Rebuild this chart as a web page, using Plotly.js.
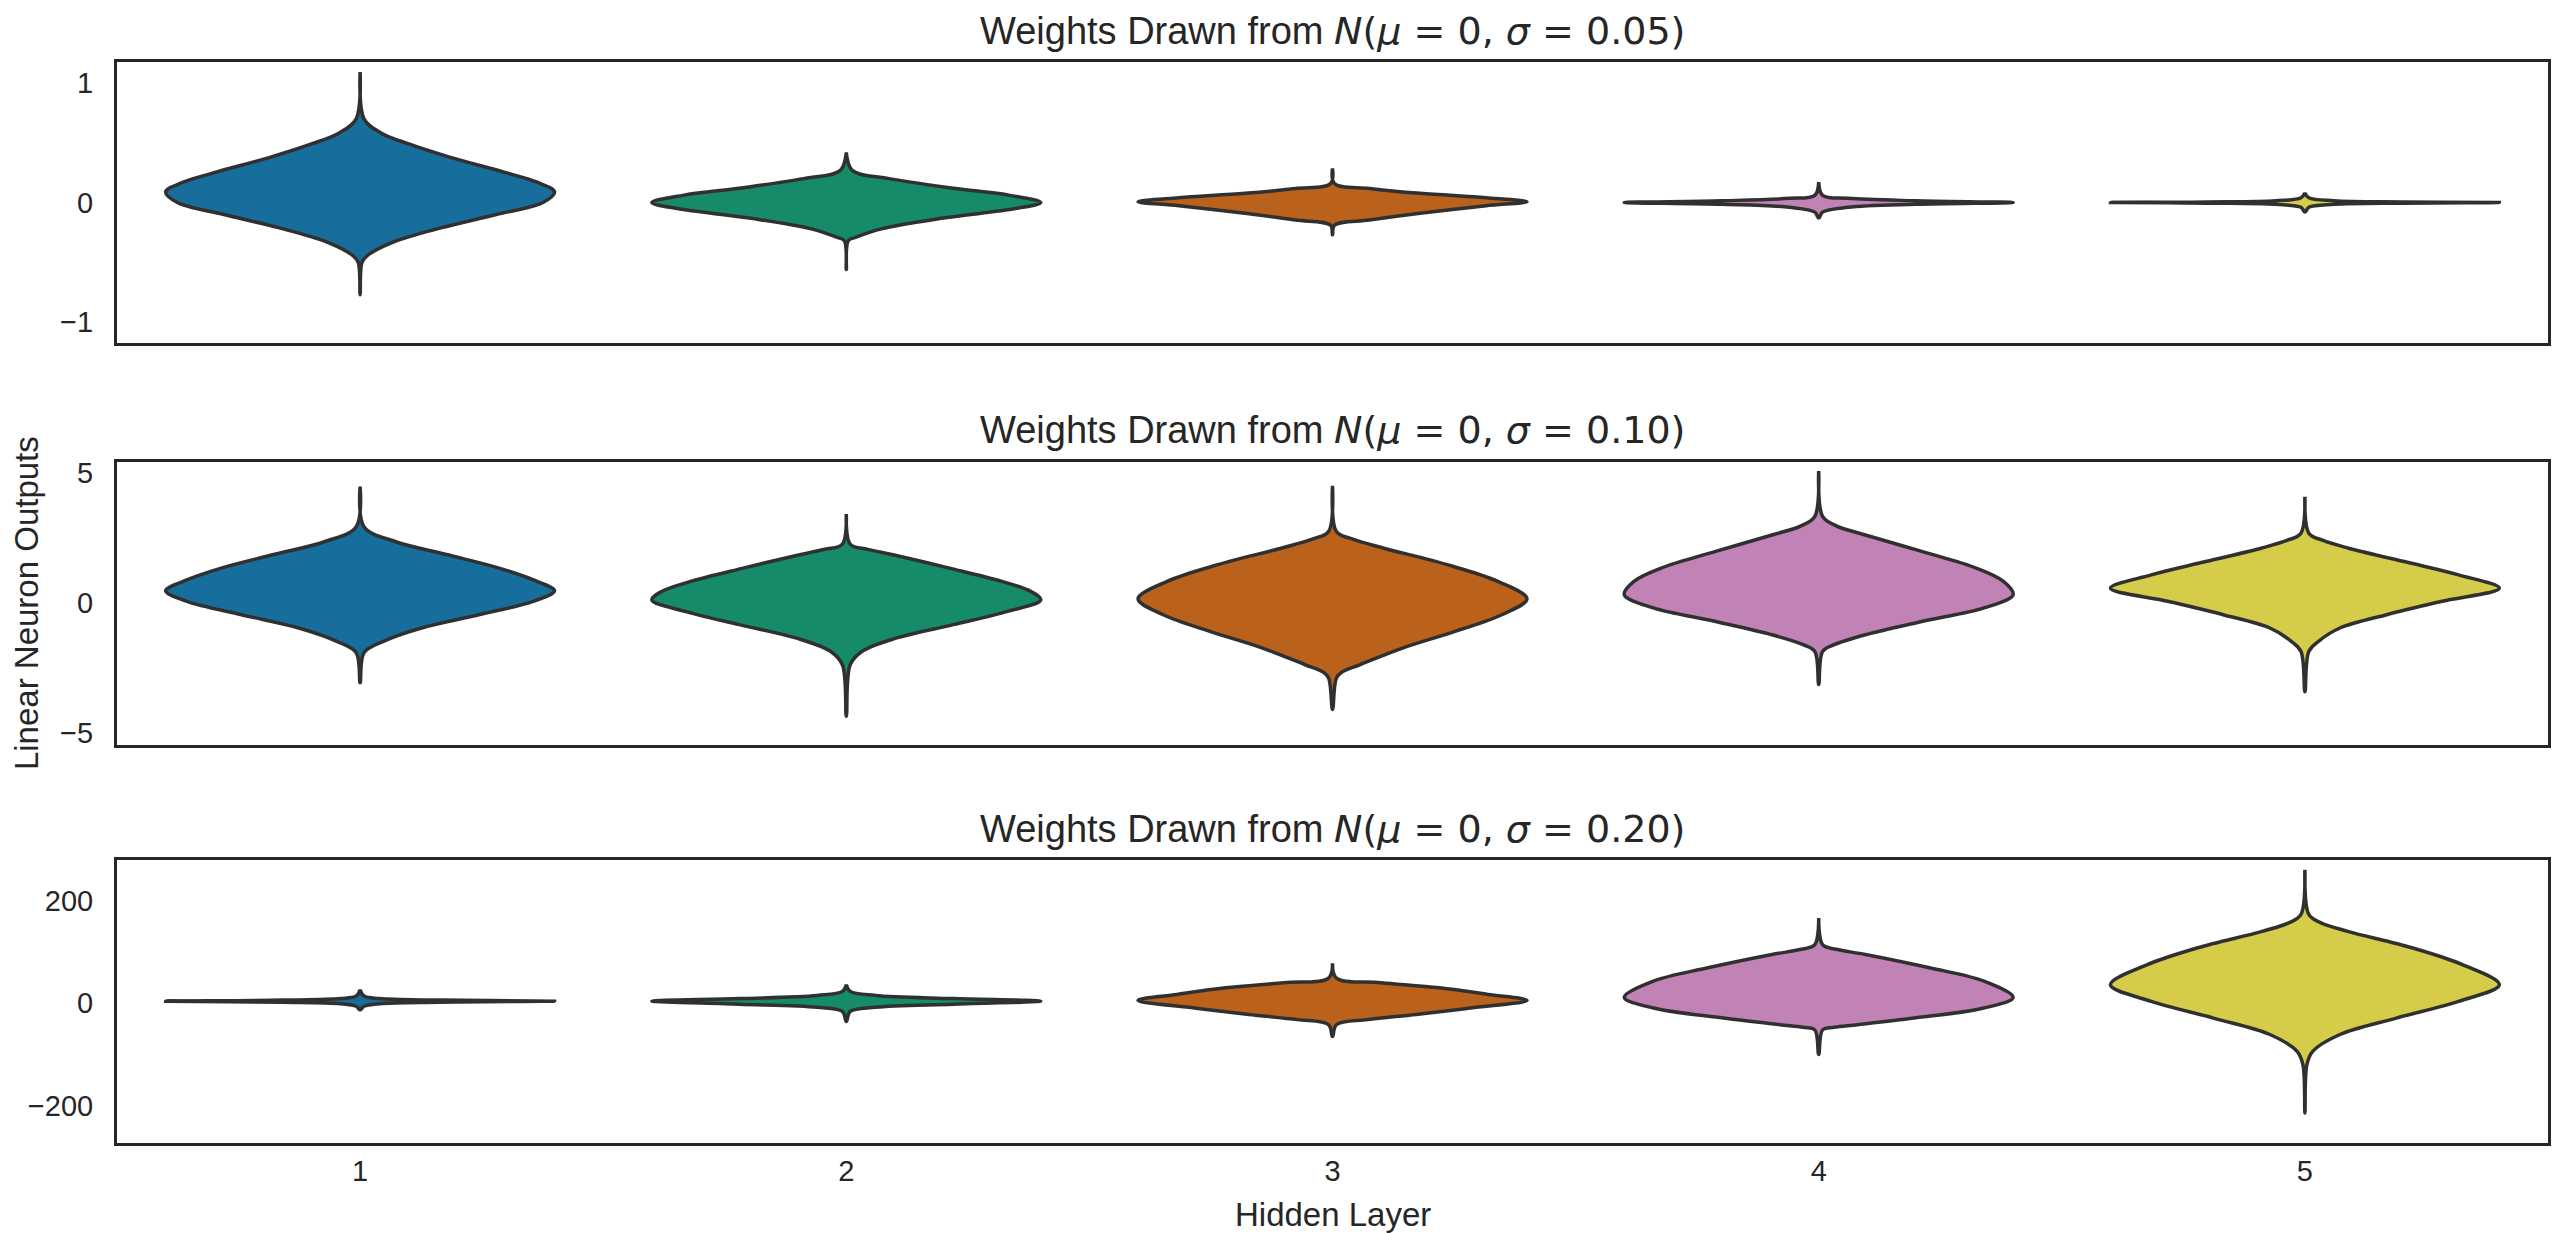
<!DOCTYPE html>
<html>
<head>
<meta charset="utf-8">
<script src="https://cdn.plot.ly/plotly-3.0.1.min.js"></script>
<style>
html,body{margin:0;padding:0;background:#ffffff;}
#chart{width:2566px;height:1233px;}
</style>
</head>
<body>
<div id="chart"></div>
<script>
// ---------------- data ----------------
const layers = ['1', '2', '3', '4', '5'];
const sigmas = ['0.05', '0.10', '0.20'];
const palette = ['#176d9c', '#168b6a', '#ba611b', '#c182b5', '#d5cd4a'];

// y tick values / labels per panel
const ticks005 = [-1, 0, 1];
const tickText005 = ['\u22121', '0', '1'];
const ticks010 = [-5, 0, 5];
const tickText010 = ['\u22125', '0', '5'];
const ticks020 = [-200, 0, 200];
const tickText020 = ['\u2212200', '0', '200'];

// Violin outlines: output levels (bottom -> top)
// and relative half-width of the density at each level (1 = widest).
// sigma = 0.05
const s005Levels = [
  [-0.77, -0.50, -0.44, -0.33, -0.21, -0.10, 0.0, 0.09, 0.17, 0.25, 0.38, 0.49, 0.58, 0.70, 1.09],
  [-0.56, -0.32, -0.29, -0.22, -0.13, -0.05, 0.0, 0.06, 0.12, 0.20, 0.27, 0.42],
  [-0.27, -0.19, -0.146, -0.09, -0.027, 0.007, 0.04, 0.077, 0.118, 0.16, 0.285],
  [-0.13, -0.08, -0.04, -0.015, 0.0, 0.015, 0.035, 0.06, 0.17],
  [-0.08, -0.04, -0.015, -0.005, 0.0, 0.005, 0.015, 0.04, 0.08]
];
const s005Widths = [
  [0, 0.01, 0.04, 0.17, 0.42, 0.70, 0.94, 1.0, 0.91, 0.75, 0.46, 0.25, 0.11, 0.02, 0],
  [0, 0.01, 0.05, 0.18, 0.50, 0.87, 1.0, 0.84, 0.55, 0.22, 0.03, 0],
  [0, 0.01, 0.19, 0.45, 0.79, 1.0, 0.79, 0.45, 0.19, 0.01, 0],
  [0, 0.02, 0.15, 0.50, 1.0, 0.50, 0.15, 0.02, 0],
  [0, 0.02, 0.15, 0.50, 1.0, 0.50, 0.15, 0.02, 0]
];
// sigma = 0.10
const s010Levels = [
  [-3.07, -1.92, -1.48, -0.96, -0.46, 0.05, 0.46, 0.82, 1.34, 1.84, 2.35, 2.92, 4.46],
  [-4.36, -2.38, -1.87, -1.35, -0.84, -0.33, 0.11, 0.43, 0.82, 1.33, 1.84, 2.05, 2.25, 3.40],
  [-4.10, -2.89, -2.65, -2.38, -1.74, -1.10, -0.46, 0.15, 0.82, 1.46, 2.10, 2.45, 2.73, 4.49],
  [-3.14, -1.87, -1.61, -1.23, -0.72, -0.20, 0.31, 0.82, 1.33, 1.97, 2.60, 2.95, 3.31, 5.05],
  [-3.42, -1.87, -1.48, -0.97, -0.46, 0.05, 0.56, 1.07, 1.58, 2.10, 2.40, 2.67, 4.07]
];
const s010Widths = [
  [0, 0.02, 0.12, 0.32, 0.61, 0.89, 1.0, 0.91, 0.71, 0.45, 0.18, 0.02, 0],
  [0, 0.02, 0.08, 0.26, 0.55, 0.83, 1.0, 0.95, 0.80, 0.53, 0.24, 0.11, 0.02, 0],
  [0, 0.02, 0.05, 0.14, 0.36, 0.63, 0.87, 1.0, 0.85, 0.59, 0.26, 0.10, 0.02, 0],
  [0, 0.02, 0.08, 0.24, 0.53, 0.85, 1.0, 0.95, 0.81, 0.53, 0.24, 0.09, 0.02, 0],
  [0, 0.02, 0.07, 0.18, 0.42, 0.70, 1.0, 0.79, 0.51, 0.22, 0.09, 0.02, 0]
];
// sigma = 0.20
const s020Levels = [
  [-13, -6, -1, 2, 4, 6, 9, 14, 26],
  [-35.5, -16, -8, -2, 4, 9, 15, 23, 36],
  [-65, -42, -32, -22, -9.4, 5.5, 17, 30, 40, 49, 78],
  [-100, -52, -47, -42, -29, -9.4, 11.3, 43, 69, 95, 105, 114, 166],
  [-214, -120, -94, -61, -29, 3.5, 36, 75, 108, 140, 157, 173, 260]
];
const s020Widths = [
  [0, 0.02, 0.10, 0.40, 1.0, 0.40, 0.10, 0.02, 0],
  [0, 0.02, 0.15, 0.55, 1.0, 0.55, 0.15, 0.02, 0],
  [0, 0.02, 0.18, 0.43, 0.71, 1.0, 0.80, 0.55, 0.25, 0.02, 0],
  [0, 0.02, 0.08, 0.20, 0.49, 0.85, 1.0, 0.85, 0.57, 0.24, 0.09, 0.02, 0],
  [0, 0.01, 0.04, 0.18, 0.47, 0.79, 1.0, 0.81, 0.55, 0.22, 0.08, 0.02, 0]
];

// ---------------- build ----------------
const panels = [
  {levels: s005Levels, widths: s005Widths, suffix: ''},
  {levels: s010Levels, widths: s010Widths, suffix: '2'},
  {levels: s020Levels, widths: s020Widths, suffix: '3'}
];
const HALF = 0.4; // half of violin width in category units
const traces = [];
panels.forEach(p => {
  p.levels.forEach((lv, i) => {
    const w = p.widths[i];
    const xs = [], ys = [];
    for (let k = 0; k < lv.length; k++) { xs.push(i + w[k] * HALF); ys.push(lv[k]); }
    for (let k = lv.length - 1; k >= 0; k--) { xs.push(i - w[k] * HALF); ys.push(lv[k]); }
    traces.push({
      type: 'scatter', mode: 'lines', x: xs, y: ys,
      xaxis: 'x' + p.suffix, yaxis: 'y' + p.suffix,
      fill: 'toself', fillcolor: palette[i],
      line: {color: '#303030', width: 3.5, shape: 'spline', smoothing: 1},
      hoverinfo: 'skip', showlegend: false
    });
  });
});

const FONT = 'Liberation Sans, Arial, sans-serif';
const TXT = '#262626';
function xAx(anchor, showLabels) {
  return {
    domain: [0, 1], range: [-0.5, 4.5], anchor: anchor,
    tickvals: [0, 1, 2, 3, 4], ticktext: layers,
    showticklabels: showLabels, ticks: '', ticklabelstandoff: 0,
    tickfont: {family: FONT, size: 29, color: TXT},
    showline: true, mirror: true, linecolor: TXT, linewidth: 3,
    showgrid: false, zeroline: false
  };
}
function yAx(anchor, domain, range, tv, tt) {
  return {
    domain: domain, range: range, anchor: anchor,
    tickvals: tv, ticktext: tt, ticks: '', ticklabelstandoff: 15,
    tickfont: {family: FONT, size: 29, color: TXT},
    showline: true, mirror: true, linecolor: TXT, linewidth: 3,
    showgrid: false, zeroline: false
  };
}
const H = 1233;
function titleText(s) {
  return 'Weights Drawn from <span style="font-family:DejaVu Sans"><i>N</i>(<i>\u03bc</i> = 0, <i>\u03c3</i> = ' + s + ')</span>';
}
const titleY = [31, 430.5, 828.5];
const annotations = sigmas.map((s, j) => ({
  text: titleText(s), xref: 'paper', yref: 'paper', x: 0.5, y: 1 - titleY[j] / H,
  xanchor: 'center', yanchor: 'middle', showarrow: false,
  font: {family: FONT, size: 38, color: TXT}
}));
annotations.push({
  text: 'Linear Neuron Outputs', xref: 'paper', yref: 'paper',
  x: -0.0374, y: 1 - 603 / H, xanchor: 'center', yanchor: 'middle',
  textangle: -90, showarrow: false, font: {family: FONT, size: 33, color: TXT}
});
annotations.push({
  text: 'Hidden Layer', xref: 'paper', yref: 'paper',
  x: 0.5, y: 1 - 1214 / H, xanchor: 'center', yanchor: 'middle',
  showarrow: false, font: {family: FONT, size: 33, color: TXT}
});

const layout = {
  width: 2566, height: 1233,
  margin: {l: 117, r: 18, t: 0, b: 0},
  paper_bgcolor: '#ffffff', plot_bgcolor: '#ffffff',
  showlegend: false,
  xaxis: xAx('y', false),
  xaxis2: xAx('y2', false),
  xaxis3: xAx('y3', true),
  yaxis: yAx('x', [1 - 342.5 / H, 1 - 62 / H], [-1.17, 1.175], ticks005, tickText005),
  yaxis2: yAx('x2', [1 - 744.5 / H, 1 - 461.5 / H], [-5.44, 5.42], ticks010, tickText010),
  yaxis3: yAx('x3', [1 - 1143.3 / H, 1 - 859.5 / H], [-273, 280], ticks020, tickText020),
  annotations: annotations
};

Plotly.newPlot('chart', traces, layout, {displayModeBar: false, staticPlot: true});
</script>
</body>
</html>
